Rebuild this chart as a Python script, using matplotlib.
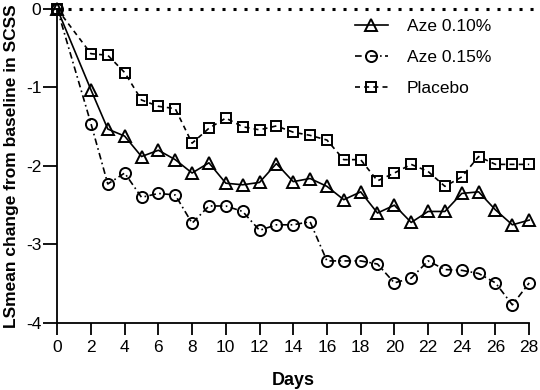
import matplotlib
matplotlib.use('Agg')
import matplotlib.pyplot as plt

plt.rcParams['font.family'] = ['Liberation Sans', 'DejaVu Sans']

days = [0, 2, 3, 4, 5, 6, 7, 8, 9, 10, 11, 12, 13, 14, 15, 16, 17, 18, 19, 20,
        21, 22, 23, 24, 25, 26, 27, 28]
aze_010 = [0, -1.03, -1.53, -1.62, -1.88, -1.80, -1.92, -2.09, -1.96, -2.22, -2.24,
           -2.21, -1.97, -2.20, -2.16, -2.26, -2.43, -2.33, -2.60, -2.50, -2.72,
           -2.58, -2.58, -2.35, -2.33, -2.56, -2.75, -2.69]
aze_015 = [0, -1.46, -2.23, -2.09, -2.40, -2.35, -2.37, -2.73, -2.51, -2.51, -2.58,
           -2.82, -2.75, -2.75, -2.71, -3.21, -3.21, -3.21, -3.25, -3.49, -3.43,
           -3.21, -3.32, -3.33, -3.37, -3.49, -3.77, -3.49]
placebo = [0, -0.57, -0.59, -0.81, -1.16, -1.24, -1.27, -1.71, -1.52, -1.39, -1.50,
           -1.54, -1.49, -1.57, -1.61, -1.67, -1.92, -1.92, -2.19, -2.09, -1.98,
           -2.07, -2.26, -2.14, -1.88, -1.98, -1.98, -1.98]
x_ticks = list(range(0, 29, 2))
y_ticks = [0, -1, -2, -3, -4]

fig = plt.figure(figsize=(5.4, 3.9), dpi=100)
ax = fig.add_axes([0.106, 0.172, 0.874, 0.805])

# zero reference line, runs past the last day
ax.plot([0, 28.6], [0, 0], color='black', linestyle=(0, (1, 2.6)), linewidth=2.2,
        clip_on=False, zorder=1)

ax.plot(days, aze_010, color='black', linestyle='-', linewidth=1.2, marker='^',
        markersize=9, markerfacecolor='none', markeredgewidth=1.4, label='Aze 0.10%',
        clip_on=False, zorder=3)
ax.plot(days, aze_015, color='black', linestyle=(0, (4, 2, 1, 2)), linewidth=1.2,
        marker='o', markersize=8, markerfacecolor='none', markeredgewidth=1.4,
        label='Aze 0.15%', clip_on=False, zorder=3)
ax.plot(days, placebo, color='black', linestyle=(0, (3, 2.5)), linewidth=1.2,
        marker='s', markersize=7.5, markerfacecolor='none', markeredgewidth=1.4,
        label='Placebo', clip_on=False, zorder=3)

ax.set_xlim(0, 28)
ax.set_ylim(-4, 0)
ax.set_xticks(x_ticks)
ax.set_yticks(y_ticks)
ax.set_yticklabels([str(v) for v in y_ticks])

for side in ['top', 'right']:
    ax.spines[side].set_visible(False)
for side in ['left', 'bottom']:
    ax.spines[side].set_linewidth(1.3)
ax.tick_params(axis='both', direction='out', width=1.3, labelsize=12.5)
ax.tick_params(axis='x', length=8.5, pad=4)
ax.tick_params(axis='y', length=10, pad=1.5)

ax.set_xlabel('Days', fontsize=13, fontweight='bold', labelpad=12)
ax.set_ylabel('LSmean change from baseline in SCSS', fontsize=12.5, fontweight='bold',
              labelpad=5)

ax.legend(loc='upper left', bbox_to_anchor=(355 / 540, 1 - 19 / 390),
          bbox_transform=fig.transFigure, frameon=False, fontsize=12.5,
          handlelength=1.9, labelspacing=0.9, handletextpad=1.1,
          borderpad=0, borderaxespad=0)

fig.savefig('out.png', dpi=100)
